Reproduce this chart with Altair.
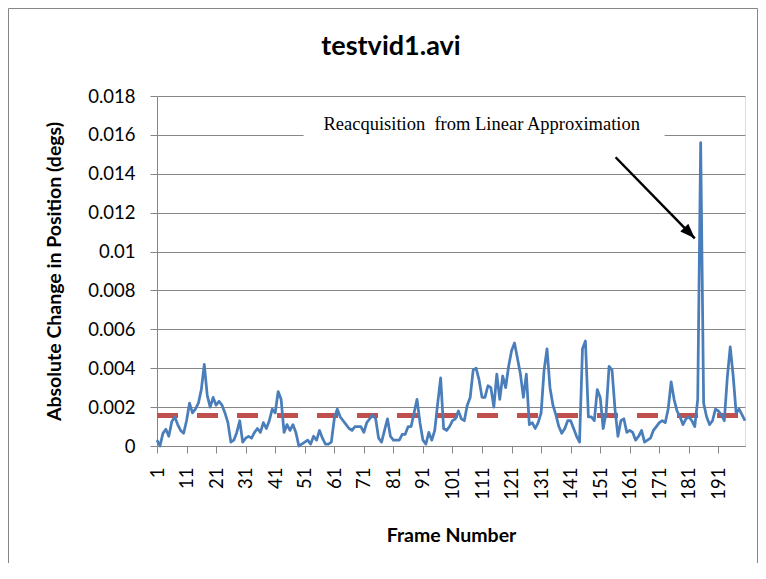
import altair as alt
import pandas as pd

# ---------------- data ----------------
frames = list(range(1, 201))
abs_change = [
    0.0003, 0.0000, 0.00065, 0.00086, 0.0005, 0.00125, 0.0015, 0.0011, 0.0008, 0.00065,
    0.0013, 0.0022, 0.0017, 0.0019, 0.0022, 0.0029, 0.0042, 0.0026, 0.0020, 0.0025,
    0.0021, 0.0023, 0.0021, 0.0017, 0.0012, 0.0002, 0.0003, 0.0007, 0.0013, 0.0002,
    0.0004, 0.0005, 0.0004, 0.0007, 0.0009, 0.0007, 0.0012, 0.0009, 0.0013, 0.0019,
    0.0017, 0.0028, 0.0024, 0.0007, 0.0011, 0.0008, 0.0011, 0.0007, 0.0000, 0.0001,
    0.0002, 0.0003, 0.0001, 0.0005, 0.0003, 0.0008, 0.0004, 0.0001, 0.0001, 0.0002,
    0.0014, 0.0019, 0.0015, 0.0013, 0.0011, 0.0009, 0.0008, 0.0010, 0.0010, 0.0010,
    0.0007, 0.0012, 0.0014, 0.0016, 0.0014, 0.0004, 0.0002, 0.0008, 0.0014, 0.0005,
    0.0003, 0.0003, 0.0003, 0.0006, 0.0006, 0.0010, 0.0010, 0.0017, 0.0024, 0.0012,
    0.0003, 0.0001, 0.0007, 0.0003, 0.0008, 0.0022, 0.0035, 0.0009, 0.0008, 0.0010,
    0.0013, 0.0014, 0.0018, 0.0014, 0.0013, 0.0021, 0.0025, 0.0039, 0.0040, 0.0034,
    0.0025, 0.0025, 0.0031, 0.0030, 0.0020, 0.0037, 0.0024, 0.0036, 0.0030, 0.0041,
    0.0049, 0.0053, 0.0045, 0.0037, 0.0025, 0.0037, 0.0011, 0.0012, 0.0009, 0.0012,
    0.0017, 0.0039, 0.0050, 0.0030, 0.0021, 0.0016, 0.0010, 0.00065, 0.0009, 0.0013,
    0.0013, 0.0009, 0.0005, 0.0002, 0.0050, 0.0054, 0.0015, 0.0015, 0.0013, 0.0029,
    0.0025, 0.0009, 0.0017, 0.0041, 0.0039, 0.0019, 0.0005, 0.0013, 0.0014, 0.0007,
    0.0008, 0.0007, 0.0003, 0.0005, 0.0008, 0.0002, 0.0003, 0.0004, 0.0008, 0.0010,
    0.0012, 0.0013, 0.0012, 0.0019, 0.0033, 0.0024, 0.0018, 0.0015, 0.0011, 0.0014,
    0.0015, 0.0013, 0.0010, 0.0024, 0.0156, 0.0022, 0.0015, 0.0011, 0.0013, 0.0019,
    0.0018, 0.0016, 0.0013, 0.0035, 0.0051, 0.0036, 0.0017, 0.0019, 0.0016, 0.0013,
]
avg_level = 0.00157

y_ticks = [0, 0.002, 0.004, 0.006, 0.008, 0.01, 0.012, 0.014, 0.016, 0.018]
x_ticks = list(range(1, 200, 10))

chart_title = "testvid1.avi"
x_title = "Frame Number"
y_title = "Absolute Change in Position (degs)"

note_text = "Reacquisition\u00a0 from Linear Approximation"
note_pos = [110.9, 0.01625]
box_x = [50.6, 172.8]
box_y = [0.0156, 0.0173]
arrow_start = [156.2, 0.01485]
arrow_tip = [183.0, 0.01068]

BLUE = "#4A7EBB"
RED = "#C0504D"
GRAY = "#868686"

# ---------------- chart ----------------
xscale = alt.Scale(domain=[1, 200], nice=False, zero=False)
yscale = alt.Scale(domain=[0, 0.018], nice=False, zero=True)

x_axis = alt.Axis(
    values=x_ticks, tickCount=100, labelAngle=270, labelFontSize=18.5, labelFont="Lato",
    labelColor="black", tickSize=7, tickColor=GRAY, domainColor=GRAY,
    labelPadding=14, grid=False, labelFlush=False, labelOverlap=False,
    title=x_title, titleFont="Lato", titleFontSize=19.5, titleFontWeight="bold",
    titleColor="black", titleX=294, titleY=89, titleBaseline="middle",
    titleAlign="center",
)
y_axis = alt.Axis(
    values=y_ticks, tickCount=100, format="~g", labelFontSize=18.5, labelFont="Lato",
    labelColor="black", tickSize=7, tickColor=GRAY, domainColor=GRAY,
    labelPadding=15, grid=True, gridColor=GRAY, gridWidth=1,
    labelFlush=False, labelOverlap=False,
    title=y_title, titleFont="Lato", titleFontSize=19.5, titleFontWeight="bold",
    titleColor="black", titleX=-103, titleY=175, titleAngle=270,
    titleAlign="center", titleBaseline="middle",
)

df = pd.DataFrame({"frame": frames, "value": abs_change})

border = alt.Chart(alt.Data(values=[{}])).mark_rect(
    filled=False, stroke=GRAY, strokeWidth=1
).encode(
    x=alt.value(-148.5), x2=alt.value(600.5), y=alt.value(-87.5), y2=alt.value(480)
)

box = alt.Chart(pd.DataFrame({
    "frame": [box_x[0]], "frame2": [box_x[1]],
    "value": [box_y[0]], "value2": [box_y[1]],
})).mark_rect(color="white", opacity=1).encode(
    x=alt.X("frame:Q", scale=xscale), x2="frame2",
    y=alt.Y("value:Q", scale=yscale), y2="value2",
)

avg = alt.Chart(pd.DataFrame({
    "frame": [1], "frame2": [200], "value": [avg_level],
})).mark_rule(color=RED, strokeWidth=5, strokeDash=[21, 19]).encode(
    x=alt.X("frame:Q", scale=xscale), x2="frame2",
    y=alt.Y("value:Q", scale=yscale),
)

line = alt.Chart(df).mark_line(
    color=BLUE, strokeWidth=2.75, strokeJoin="round"
).encode(
    x=alt.X("frame:Q", scale=xscale, axis=x_axis),
    y=alt.Y("value:Q", scale=yscale, axis=y_axis),
)

note = alt.Chart(pd.DataFrame({
    "frame": [note_pos[0]], "value": [note_pos[1]], "label": [note_text],
})).mark_text(
    font="Liberation Serif", fontSize=18.5, color="black",
    align="center", baseline="alphabetic",
).encode(
    x=alt.X("frame:Q", scale=xscale), y=alt.Y("value:Q", scale=yscale),
    text="label:N",
)

arrow_line = alt.Chart(pd.DataFrame({
    "frame": [arrow_start[0]], "frame2": [arrow_tip[0]],
    "value": [arrow_start[1]], "value2": [arrow_tip[1]],
})).mark_rule(color="black", strokeWidth=2.5).encode(
    x=alt.X("frame:Q", scale=xscale), x2="frame2",
    y=alt.Y("value:Q", scale=yscale), y2="value2",
)

arrow_head = alt.Chart(pd.DataFrame({
    "frame": [arrow_tip[0]], "value": [arrow_tip[1]],
})).mark_point(
    shape="M0,0L0.6,1.6L-0.6,1.6Z", filled=True, color="black",
    opacity=1, size=350, angle=135.7, strokeWidth=0,
).encode(
    x=alt.X("frame:Q", scale=xscale), y=alt.Y("value:Q", scale=yscale),
)

chart = alt.layer(
    border, box, avg, line, note, arrow_line, arrow_head
).properties(
    width=588, height=350,
    padding={"left": 149, "top": 88, "right": 13, "bottom": 117},
    autosize=alt.AutoSizeParams(type="none"),
    title=alt.TitleParams(
        chart_title, font="Lato", fontSize=27, fontWeight="bold",
        color="black", anchor="middle", dx=-60, offset=0, dy=74,
        baseline="alphabetic",
    ),
).configure_view(stroke=None).configure(font="Lato")

chart.save("out.html", embed_options={"renderer": "svg", "actions": False})
